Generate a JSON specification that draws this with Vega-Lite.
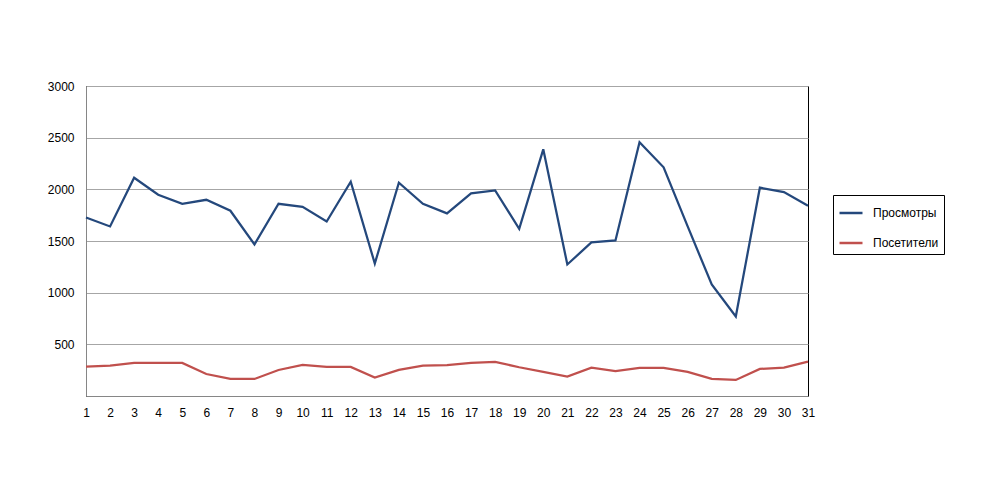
{
  "$schema": "https://vega.github.io/schema/vega-lite/v6.json",
  "autosize": {"type": "none"},
  "padding": {"left": 86, "top": 86, "right": 185, "bottom": 97},
  "width": 722,
  "height": 310,
  "background": "white",
  "data": {
    "values": [
      {"day": 1, "series": "Просмотры", "value": 1728},
      {"day": 2, "series": "Просмотры", "value": 1641},
      {"day": 3, "series": "Просмотры", "value": 2112},
      {"day": 4, "series": "Просмотры", "value": 1948},
      {"day": 5, "series": "Просмотры", "value": 1860},
      {"day": 6, "series": "Просмотры", "value": 1899},
      {"day": 7, "series": "Просмотры", "value": 1793},
      {"day": 8, "series": "Просмотры", "value": 1466},
      {"day": 9, "series": "Просмотры", "value": 1860},
      {"day": 10, "series": "Просмотры", "value": 1831},
      {"day": 11, "series": "Просмотры", "value": 1689},
      {"day": 12, "series": "Просмотры", "value": 2074},
      {"day": 13, "series": "Просмотры", "value": 1282},
      {"day": 14, "series": "Просмотры", "value": 2064},
      {"day": 15, "series": "Просмотры", "value": 1860},
      {"day": 16, "series": "Просмотры", "value": 1767},
      {"day": 17, "series": "Просмотры", "value": 1961},
      {"day": 18, "series": "Просмотры", "value": 1990},
      {"day": 19, "series": "Просмотры", "value": 1618},
      {"day": 20, "series": "Просмотры", "value": 2387},
      {"day": 21, "series": "Просмотры", "value": 1273},
      {"day": 22, "series": "Просмотры", "value": 1486},
      {"day": 23, "series": "Просмотры", "value": 1505},
      {"day": 24, "series": "Просмотры", "value": 2455},
      {"day": 25, "series": "Просмотры", "value": 2213},
      {"day": 26, "series": "Просмотры", "value": 1641},
      {"day": 27, "series": "Просмотры", "value": 1079},
      {"day": 28, "series": "Просмотры", "value": 769},
      {"day": 29, "series": "Просмотры", "value": 2016},
      {"day": 30, "series": "Просмотры", "value": 1974},
      {"day": 31, "series": "Просмотры", "value": 1841},
      {"day": 1, "series": "Посетители", "value": 284},
      {"day": 2, "series": "Посетители", "value": 294},
      {"day": 3, "series": "Посетители", "value": 320},
      {"day": 4, "series": "Посетители", "value": 320},
      {"day": 5, "series": "Посетители", "value": 320},
      {"day": 6, "series": "Посетители", "value": 213},
      {"day": 7, "series": "Посетители", "value": 165},
      {"day": 8, "series": "Посетители", "value": 165},
      {"day": 9, "series": "Посетители", "value": 252},
      {"day": 10, "series": "Посетители", "value": 300},
      {"day": 11, "series": "Посетители", "value": 281},
      {"day": 12, "series": "Посетители", "value": 281},
      {"day": 13, "series": "Посетители", "value": 178},
      {"day": 14, "series": "Посетители", "value": 252},
      {"day": 15, "series": "Посетители", "value": 294},
      {"day": 16, "series": "Посетители", "value": 299},
      {"day": 17, "series": "Посетители", "value": 320},
      {"day": 18, "series": "Посетители", "value": 330},
      {"day": 19, "series": "Посетители", "value": 278},
      {"day": 20, "series": "Посетители", "value": 233},
      {"day": 21, "series": "Посетители", "value": 187},
      {"day": 22, "series": "Посетители", "value": 275},
      {"day": 23, "series": "Посетители", "value": 242},
      {"day": 24, "series": "Посетители", "value": 271},
      {"day": 25, "series": "Посетители", "value": 271},
      {"day": 26, "series": "Посетители", "value": 233},
      {"day": 27, "series": "Посетители", "value": 165},
      {"day": 28, "series": "Посетители", "value": 155},
      {"day": 29, "series": "Посетители", "value": 262},
      {"day": 30, "series": "Посетители", "value": 275},
      {"day": 31, "series": "Посетители", "value": 333}
    ]
  },
  "mark": {"type": "line", "strokeWidth": 2.25, "strokeJoin": "miter"},
  "encoding": {
    "x": {
      "field": "day",
      "type": "ordinal",
      "scale": {"type": "point", "padding": 0},
      "axis": {
        "title": null,
        "labelAngle": 0,
        "ticks": false,
        "grid": false,
        "labelPadding": 11,
        "labelFont": "Liberation Sans",
        "labelFontSize": 12,
        "labelColor": "#000",
        "domainColor": "#868686"
      }
    },
    "y": {
      "field": "value",
      "type": "quantitative",
      "scale": {"domain": [0, 3000], "nice": false, "zero": true},
      "axis": {
        "title": null,
        "values": [500, 1000, 1500, 2000, 2500, 3000],
        "format": "d",
        "ticks": false,
        "grid": true,
        "gridColor": "#a6a6a6",
        "gridWidth": 1,
        "labelPadding": 12,
        "labelFont": "Liberation Sans",
        "labelFontSize": 12,
        "labelColor": "#000",
        "domainColor": "#868686"
      }
    },
    "color": {
      "field": "series",
      "type": "nominal",
      "sort": ["Просмотры", "Посетители"],
      "scale": {"domain": ["Просмотры", "Посетители"], "range": ["#24487c", "#c0504d"]},
      "legend": {
        "title": null,
        "orient": "none",
        "legendX": 747,
        "legendY": 109,
        "strokeColor": "#000",
        "fillColor": "white",
        "padding": 5,
        "symbolType": "stroke",
        "symbolSize": 529,
        "symbolStrokeWidth": 2.5,
        "rowPadding": 11,
        "labelFont": "Liberation Sans",
        "labelFontSize": 12,
        "labelColor": "#000",
        "labelOffset": 9,
        "labelLimit": 200
      }
    }
  },
  "config": {
    "view": {"stroke": "#000", "strokeWidth": 1}
  }
}
